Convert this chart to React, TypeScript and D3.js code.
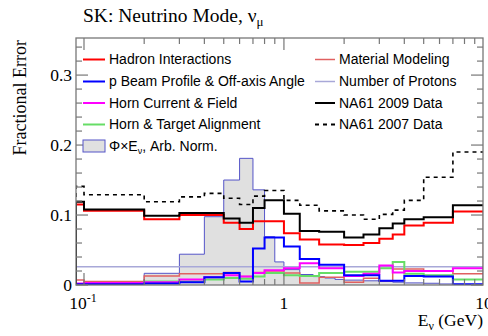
import React from "react";
import * as d3 from "d3";

// ---- data ----
const binEdges = [0, 0.1, 0.2, 0.3, 0.4, 0.5, 0.6, 0.7, 0.8, 1.0, 1.2, 1.5, 2.0, 2.5, 3.0, 3.5, 4.0, 5.0, 7.0, 10.0];
const hadron = [0.115, 0.106, 0.094, 0.100, 0.100, 0.089, 0.080, 0.091, 0.091, 0.074, 0.065, 0.058, 0.057, 0.060, 0.066, 0.072, 0.085, 0.089, 0.105];
const beamProfile = [0.001, 0.001, 0.002, 0.004, 0.011, 0.017, 0.005, 0.052, 0.068, 0.055, 0.037, 0.029, 0.014, 0.014, 0.006, 0.006, 0.013, 0.012, 0.001];
const hornCurrent = [0.002, 0.003, 0.004, 0.008, 0.011, 0.014, 0.012, 0.017, 0.021, 0.024, 0.031, 0.024, 0.013, 0.016, 0.028, 0.018, 0.020, 0.020, 0.024];
const hornAlign = [0.001, 0.002, 0.005, 0.005, 0.008, 0.010, 0.009, 0.012, 0.017, 0.014, 0.013, 0.017, 0.019, 0.019, 0.024, 0.033, 0.016, 0.014, 0.008];
const material = [0.007, 0.005, 0.013, 0.016, 0.016, 0.018, 0.012, 0.018, 0.020, 0.017, 0.003, 0.011, 0.004, 0.0095, 0.006, 0.023, 0.023, 0.020, 0.016];
const protons = [0.026, 0.026, 0.026, 0.026, 0.026, 0.026, 0.026, 0.026, 0.026, 0.026, 0.026, 0.026, 0.026, 0.026, 0.026, 0.026, 0.026, 0.026, 0.026];
const na61_2009 = [0.119, 0.108, 0.099, 0.103, 0.103, 0.095, 0.089, 0.110, 0.121, 0.102, 0.077, 0.076, 0.068, 0.072, 0.081, 0.088, 0.094, 0.097, 0.114];
const na61_2007 = [0.141, 0.129, 0.119, 0.126, 0.131, 0.124, 0.115, 0.127, 0.135, 0.121, 0.114, 0.106, 0.100, 0.094, 0.101, 0.107, 0.121, 0.154, 0.190];

const fluxEdges = [0, 0.1, 0.2, 0.3, 0.4, 0.5, 0.6, 0.7, 0.8, 0.9, 1.0, 1.2, 1.4, 1.6, 1.8, 2.0, 2.5, 3.0, 3.5, 4.0, 5.0, 6.0, 7.0, 8.0, 9.0, 10.0];
const fluxValues = [0, 0.0005, 0.0167, 0.044, 0.0976, 0.150, 0.181, 0.136, 0.069, 0.033, 0.022, 0.015, 0.012, 0.010, 0.008, 0.007, 0.006, 0.005, 0.004, 0.003, 0.0025, 0.0015, 0.001, 0.0008, 0.0005];

const yTicksMajor = [0, 0.1, 0.2, 0.3];
const xMinorTicks = [0.2, 0.3, 0.4, 0.5, 0.6, 0.7, 0.8, 0.9, 2, 3, 4, 5, 6, 7, 8, 9];
const xMajorTicks = [0.1, 1];

const legendLeft = [
  { label: "Hadron Interactions", color: "#ff0000", w: 2 },
  { label: "p Beam Profile & Off-axis Angle", color: "#0000ff", w: 2 },
  { label: "Horn Current & Field", color: "#ff00ff", w: 2 },
  { label: "Horn & Target Alignment", color: "#66dd66", w: 2 },
];
const legendRight = [
  { label: "Material Modeling", color: "#e06060", w: 1.5, dash: "" },
  { label: "Number of Protons", color: "#a8a8d8", w: 1.5, dash: "" },
  { label: "NA61 2009 Data", color: "#000000", w: 2, dash: "" },
  { label: "NA61 2007 Data", color: "#000000", w: 2, dash: "4,4" },
];

const W = 488, H = 336;
const L = 76, R = 483, T = 38, B = 285;
const X0 = 0.0912, X1 = 9.9;

export default function App() {
  const x = d3.scaleLog().domain([X0, X1]).range([L, R]);
  const y = d3.scaleLinear().domain([0, 0.353]).range([B, T]);
  const xc = (e: number) => x(Math.max(e, X0));

  const stepPts = (edges: number[], vals: number[]) => {
    const pts: [number, number][] = [[xc(edges[0]), y(0)]];
    vals.forEach((v, i) => pts.push([xc(edges[i]), y(v)]));
    pts.push([xc(edges[vals.length]), y(vals[vals.length - 1])]);
    pts.push([xc(edges[vals.length]), y(0)]);
    return pts;
  };
  const line = d3.line().curve(d3.curveStepAfter);
  const path = (vals: number[]) => line(stepPts(binEdges, vals)) as string;
  const fluxPath = line(stepPts(fluxEdges, fluxValues)) as string;

  const serif = "'Liberation Serif', 'Times New Roman', serif";
  const sans = "'Liberation Sans', Arial, sans-serif";
  const frame = "#777";

  const yMinor = d3.range(0, 0.353, 0.02);
  const rows = [59.5, 81.5, 103, 124.5, 146];

  return (
    <svg width={W} height={H} style={{ position: "absolute", left: 0, top: 0 }}>
      <rect x={0} y={0} width={W} height={H} fill="#fff" />
      <defs>
        <clipPath id="plot">
          <rect x={L} y={T} width={R - L} height={B - T} />
        </clipPath>
      </defs>
      {/* title */}
      <text x={83} y={22} fontFamily={serif} fontSize={19.5} fill="#000">
        SK: Neutrino Mode, ν<tspan fontSize={13} dy={4}>μ</tspan>
      </text>

      <g clipPath="url(#plot)">
        <path d={fluxPath} fill="#e0e0e0" stroke="#5555c8" strokeWidth={1} />
        <path d={path(protons)} fill="none" stroke="#a8a8d8" strokeWidth={1.5} />
        <path d={path(material)} fill="none" stroke="#e06060" strokeWidth={1.5} />
        <path d={path(hornAlign)} fill="none" stroke="#66dd66" strokeWidth={2} />
        <path d={path(hornCurrent)} fill="none" stroke="#ff00ff" strokeWidth={2} />
        <path d={path(beamProfile)} fill="none" stroke="#0000ff" strokeWidth={2} />
        <path d={path(hadron)} fill="none" stroke="#ff0000" strokeWidth={2} />
        <path d={path(na61_2009)} fill="none" stroke="#000" strokeWidth={2} />
        <path d={path(na61_2007)} fill="none" stroke="#000" strokeWidth={1.6} strokeDasharray="4,4" />
      </g>

      {/* frame */}
      <rect x={L} y={T} width={R - L} height={B - T} fill="none" stroke={frame} strokeWidth={1.3} />

      {/* y ticks */}
      {yMinor.map((v, i) => {
        const major = yTicksMajor.some((m) => Math.abs(m - v) < 1e-6);
        const len = major ? 12 : 6;
        return (
          <g key={"yt" + i}>
            <line x1={L} x2={L + len} y1={y(v)} y2={y(v)} stroke={frame} strokeWidth={1.2} />
            <line x1={R} x2={R - len} y1={y(v)} y2={y(v)} stroke={frame} strokeWidth={1.2} />
          </g>
        );
      })}
      {yTicksMajor.map((v) => (
        <text key={"yl" + v} x={72} y={y(v)} dy="0.35em" textAnchor="end" fontFamily={serif} fontSize={17.5} fill="#000">
          {v === 0 ? "0" : v.toFixed(1)}
        </text>
      ))}

      {/* x ticks */}
      {xMinorTicks.map((v) => (
        <g key={"xt" + v}>
          <line x1={x(v)} x2={x(v)} y1={B} y2={B - 6} stroke={frame} strokeWidth={1.2} />
          <line x1={x(v)} x2={x(v)} y1={T} y2={T + 6} stroke={frame} strokeWidth={1.2} />
        </g>
      ))}
      {xMajorTicks.map((v) => (
        <g key={"xm" + v}>
          <line x1={x(v)} x2={x(v)} y1={B} y2={B - 12} stroke={frame} strokeWidth={1.2} />
          <line x1={x(v)} x2={x(v)} y1={T} y2={T + 12} stroke={frame} strokeWidth={1.2} />
        </g>
      ))}
      <text x={x(0.1) - 1} y={309} textAnchor="middle" fontFamily={serif} fontSize={17.5} fill="#000">
        10<tspan fontSize={12} dy={-7}>-1</tspan>
      </text>
      <text x={x(1)} y={309} textAnchor="middle" fontFamily={serif} fontSize={17.5} fill="#000">1</text>
      <text x={x(1) + 200} y={309} textAnchor="middle" fontFamily={serif} fontSize={17.5} fill="#000">10</text>

      {/* axis titles */}
      <text x={R} y={326} textAnchor="end" fontFamily={serif} fontSize={17.5} fill="#000">
        E<tspan fontSize={12} dy={4}>ν</tspan><tspan dy={-4}> (GeV)</tspan>
      </text>
      <text transform={`translate(26,${T + 2}) rotate(-90)`} textAnchor="end" fontFamily={serif} fontSize={18} fill="#000">
        Fractional Error
      </text>

      {/* legend */}
      {legendLeft.map((d, i) => (
        <g key={"ll" + i}>
          <line x1={83} x2={105} y1={rows[i]} y2={rows[i]} stroke={d.color} strokeWidth={d.w} />
          <text x={109} y={rows[i]} dy="0.35em" fontFamily={sans} fontSize={14} fill="#000">{d.label}</text>
        </g>
      ))}
      <rect x={83} y={rows[4] - 6} width={22} height={12} fill="#e0e0e0" stroke="#5555c8" strokeWidth={1} />
      <text x={109} y={rows[4]} dy="0.35em" fontFamily={sans} fontSize={14} fill="#000">
        Φ×E<tspan fontSize={9} dy={3}>ν</tspan><tspan dy={-3}>, Arb. Norm.</tspan>
      </text>
      {legendRight.map((d, i) => (
        <g key={"lr" + i}>
          <line x1={315} x2={335} y1={rows[i]} y2={rows[i]} stroke={d.color} strokeWidth={d.w} strokeDasharray={d.dash || undefined} />
          <text x={339} y={rows[i]} dy="0.35em" fontFamily={sans} fontSize={14} fill="#000">{d.label}</text>
        </g>
      ))}
    </svg>
  );
}
